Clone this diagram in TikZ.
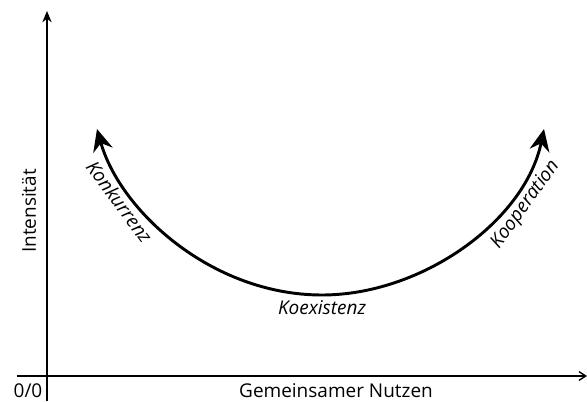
\documentclass[tikz,border=0pt]{standalone}
\usepackage{fontspec}
\setmainfont{Open Sans}
\usetikzlibrary{arrows.meta}

\begin{document}
\begin{tikzpicture}[x=0.3mm, y=0.3mm, font=\fontsize{16.2}{19}\selectfont]

    \useasboundingbox (0, 0) rectangle (587, 401);

    % Node definitions
    \coordinate (o) at (47, 25);
    \coordinate (ytop) at (47, 390);
    \coordinate (ybot) at (47, 0);
    \coordinate (xleft) at (17, 25);
    \coordinate (xright) at (587, 25);
    \coordinate (konk) at (97, 272);
    \coordinate (mitte) at (322, 106);
    \coordinate (koop) at (544, 272);

    \node (null) at (28, 4) [anchor=base, inner sep=1pt] {0/0};
    \node (nutzen) at (336, 4) [anchor=base, inner sep=1pt] {Gemeinsamer Nutzen};
    \node (int) at (29, 190) [rotate=90] {Intensität};

    % Axes
    \draw[-{Stealth[length=3.4mm, width=2.8mm]}, line width=1.2pt] (ybot) -- (ytop);
    \draw[-{Straight Barb[length=2mm, width=2.6mm]}, line width=1.2pt] (xleft) -- (xright);

    % Curve with labels
    \draw[{Stealth[length=6.6mm, width=6mm, inset=2.2mm]}-{Stealth[length=6.6mm, width=6mm, inset=2.2mm]}, line width=2.5pt]
        (konk) .. controls (120, 190) and (212, 106) .. (mitte)
            node[pos=0.27, sloped, below] {\itshape Konkurrenz}
            node[pos=1, below=0pt] (koex) {\itshape Koexistenz}
        .. controls (422, 106) and (525, 180) .. (koop)
            node[pos=0.74, sloped, below] {\itshape Kooperation};
\end{tikzpicture}
\end{document}
